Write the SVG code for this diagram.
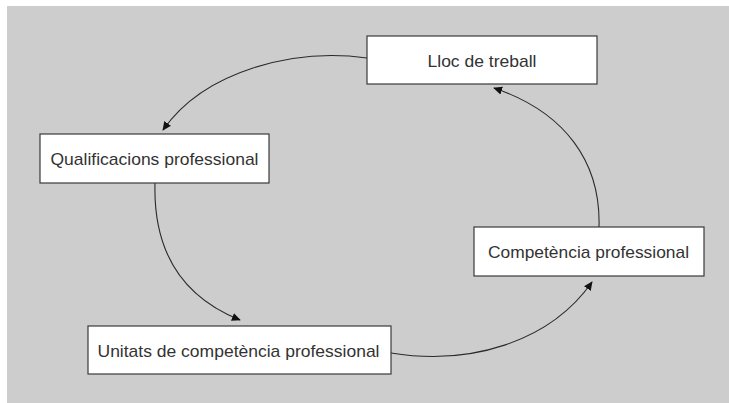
<svg xmlns="http://www.w3.org/2000/svg" width="729" height="403" viewBox="0 0 729 403">
  <style>
    .box { fill: #ffffff; stroke: #3a3a3a; stroke-width: 1.2; }
    .label { font-family: "Liberation Sans", Arial, sans-serif; font-size: 17px; fill: #333333; text-anchor: middle; }
    .link { fill: none; stroke: #2a2a2a; stroke-width: 1.1; marker-end: url(#arrow); }
  </style>
  <defs>
    <marker id="arrow" viewBox="0 0 10 10" refX="9" refY="5" markerWidth="9" markerHeight="9" markerUnits="userSpaceOnUse" orient="auto">
      <path d="M0,0.5 L10,5 L0,9.5 Z" fill="#111111"/>
    </marker>
  </defs>

  <!-- background panel -->
  <rect x="7" y="6" width="722" height="397" fill="#cdcdcd"/>

  <!-- connectors -->
  <g id="connectors">
    <path class="link" d="M367,58 C295,48 205,70 163,130"/>
    <path class="link" d="M155,183 C153,255 185,298 240,320"/>
    <path class="link" d="M391,353 C470,366 550,342 592,282"/>
    <path class="link" d="M599,227 C601,162 565,112 494,88"/>
  </g>

  <!-- nodes -->
  <g id="lloc">
    <rect class="box" x="367" y="36" width="230" height="48"/>
    <text class="label" x="482" y="67" textLength="109" lengthAdjust="spacingAndGlyphs">Lloc de treball</text>
  </g>
  <g id="qualificacions">
    <rect class="box" x="40" y="134" width="229" height="49"/>
    <text class="label" x="154.5" y="165" textLength="208" lengthAdjust="spacingAndGlyphs">Qualificacions professional</text>
  </g>
  <g id="competencia">
    <rect class="box" x="474" y="227" width="230" height="49"/>
    <text class="label" x="588.5" y="258" textLength="201" lengthAdjust="spacingAndGlyphs">Competència professional</text>
  </g>
  <g id="unitats">
    <rect class="box" x="88" y="326" width="303" height="48"/>
    <text class="label" x="238.5" y="357" textLength="282" lengthAdjust="spacingAndGlyphs">Unitats de competència professional</text>
  </g>
</svg>
